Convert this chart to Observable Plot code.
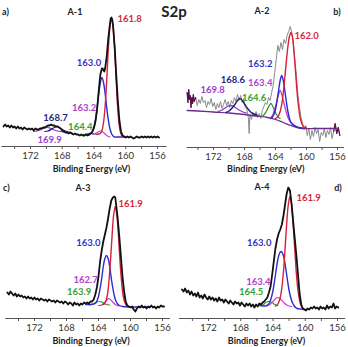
<!DOCTYPE html>
<html><head><meta charset="utf-8">
<script src="https://cdn.jsdelivr.net/npm/d3@7"></script>
<script src="https://cdn.jsdelivr.net/npm/@observablehq/plot@0.6"></script>
<style>
body{margin:0;background:#fff;}
#root{position:relative;width:348px;height:347px;overflow:hidden;font-family:Lato,"Open Sans",sans-serif;}
.pn{position:absolute;}
.t{position:absolute;transform:translate(-50%,-50%);font-weight:bold;line-height:1;white-space:nowrap;color:#222;}
</style></head><body><div id="root"></div>
<script>
// ---------- axis ----------
const TICKS = [156,158,160,162,164,166,168,170,172,174];
const TICK_LABELS = [156,160,164,168,172];
const AXIS_TITLE = "Binding Energy (eV)";
const MAIN_TITLE = "S2p";

// ---------- A-1 ----------
const A1_spectrum = [[175.4,20],[175.2,22],[175.0,20],[174.8,21],[174.6,19],[174.4,21],[174.2,19],[174.0,20],[173.8,18],[173.6,20],[173.4,18],[173.2,19],[173.0,17],[172.8,19],[172.6,18],[172.4,17],[172.2,18],[172.0,17],[171.8,18],[171.6,16],[171.4,18],[171.2,17],[171.0,17],[170.8,18],[170.6,18],[170.4,19],[170.2,19],[170.0,20],[169.8,21],[169.6,21],[169.4,22],[169.2,21],[169.0,21],[168.8,20],[168.6,20],[168.4,19],[168.2,18],[168.0,16],[167.8,15],[167.6,14],[167.4,14],[167.2,13],[167.0,14],[166.8,13],[166.6,12],[166.4,13],[166.2,12],[166.0,12],[165.8,11],[165.6,12],[165.4,11],[165.2,11],[165.0,12],[164.8,11],[164.6,12],[164.4,13],[164.2,15],[164.0,19],[163.8,26],[163.6,38],[163.4,56],[163.2,72],[163.0,78],[162.9,78],[162.8,76],[162.7,75],[162.6,78],[162.4,90],[162.2,108],[162.0,122],[161.9,128],[161.8,129],[161.7,127],[161.6,121],[161.4,100],[161.2,72],[161.0,46],[160.8,26],[160.6,15],[160.4,11],[160.2,10],[160.0,9],[159.8,10],[159.6,9],[159.4,10],[159.2,9],[159.0,8],[158.8,9],[158.6,10],[158.4,9],[158.2,9],[158.0,10],[157.8,9],[157.6,10],[157.4,9],[157.2,10],[157.0,9],[156.8,10],[156.6,9],[156.4,10],[156.2,9],[156.0,10],[155.8,9]];
const A1_fit_161_8 = [[163.6,12],[163.4,12.5],[163.2,13],[163.0,16],[162.8,24],[162.6,40],[162.4,66],[162.2,97],[162.0,119],[161.8,128],[161.6,120],[161.4,98],[161.2,66],[161.0,37],[160.8,20],[160.6,12.5],[160.4,10],[160.2,9.5],[160.0,9.5]];
const A1_fit_163_0 = [[164.8,12],[164.6,12],[164.4,13],[164.2,15],[164.0,19],[163.8,27],[163.6,39],[163.4,53],[163.2,64],[163.0,69],[162.8,64],[162.6,53],[162.4,39],[162.2,27],[162.0,18],[161.8,13],[161.6,10.5],[161.4,9.5],[161.0,9.5],[160.6,9.5],[160.2,9.5]];
const A1_fit_163_2 = [[164.2,12],[164.0,12.5],[163.8,13],[163.6,14],[163.4,15],[163.2,15.5],[163.0,15],[162.8,14],[162.6,12.5],[162.4,11],[162.2,10],[162.0,9.5]];
const A1_fit_164_4 = [[165.4,12],[165.0,12.3],[164.7,13],[164.4,13.5],[164.1,13],[163.8,12.3],[163.4,12]];
const A1_fit_168_7 = [[170.2,15],[169.8,15.5],[169.4,17],[169.0,19],[168.7,20],[168.4,19],[168.0,17],[167.6,15.5],[167.2,14.5],[166.8,14]];
const A1_fit_169_9 = [[171.6,15],[171.2,15.5],[170.8,16.5],[170.4,18],[169.9,19],[169.4,18],[169.0,16.5],[168.6,15.5],[168.2,15],[167.8,14.5]];
const A1_peaks = ["161.8","163.0","163.2","164.4","168.7","169.9"];

// ---------- A-2 ----------
const A2_spectrum = [[175.4,55],[175.3,45],[175.2,58],[175.1,48],[175.0,52],[174.9,40],[174.8,50],[174.7,44],[174.6,53],[174.5,46],[174.3,50],[174.1,42],[173.9,48],[173.7,44],[173.5,51],[173.3,45],[173.1,47],[172.9,40],[172.7,46],[172.5,43],[172.3,49],[172.1,41],[171.9,45],[171.7,38],[171.5,44],[171.3,40],[171.1,46],[170.9,39],[170.7,43],[170.5,48],[170.3,42],[170.1,46],[169.9,40],[169.7,47],[169.5,44],[169.3,50],[169.1,46],[168.9,53],[168.7,47],[168.5,52],[168.3,45],[168.1,49],[167.9,40],[167.7,38],[167.5,30],[167.4,14],[167.3,33],[167.1,28],[166.9,35],[166.7,31],[166.5,36],[166.3,30],[166.1,34],[165.9,29],[165.7,37],[165.5,41],[165.3,45],[165.1,43],[164.9,50],[164.7,47],[164.5,55],[164.3,62],[164.1,75],[163.9,88],[163.7,102],[163.5,96],[163.3,105],[163.1,98],[162.9,108],[162.7,104],[162.5,112],[162.3,116],[162.1,121],[161.9,115],[161.7,104],[161.5,88],[161.3,72],[161.1,52],[160.9,40],[160.7,30],[160.5,24],[160.3,18],[160.1,22],[159.9,12],[159.7,19],[159.5,8],[159.3,17],[159.1,11],[158.9,20],[158.7,14],[158.5,18],[158.3,6],[158.1,15],[157.9,12],[157.7,19],[157.5,10],[157.3,17],[157.1,13],[156.9,20],[156.7,9],[156.5,16],[156.3,24],[156.1,14],[155.9,20],[155.7,12]];
const A2_background = [[175.4,37],[174.0,36.5],[172.0,35.5],[170.0,34.5],[168.0,33],[166.5,31.5],[165.0,30],[164.0,28],[163.0,25],[162.0,22],[161.2,20],[160.5,19],[159.0,19],[157.5,19],[156.2,19]];
const A2_fit_162_0 = [[164.0,29],[163.8,30],[163.6,32],[163.4,36],[163.2,43],[163.0,54],[162.8,70],[162.6,86],[162.4,101],[162.2,111],[162.0,115],[161.8,110],[161.6,94],[161.4,74],[161.2,54],[161.0,39],[160.8,29],[160.6,24],[160.4,21],[160.2,20],[160.0,19.5]];
const A2_fit_163_2 = [[164.6,29],[164.4,30.5],[164.2,33],[164.0,38],[163.8,47],[163.6,57],[163.4,67],[163.2,72],[163.0,67],[162.8,57],[162.6,46],[162.4,36],[162.2,29],[162.0,25],[161.8,23],[161.5,21.5],[161.0,20],[160.5,19.5]];
const A2_fit_163_4 = [[164.8,29],[164.6,30],[164.4,32],[164.2,36],[164.0,41],[163.8,47],[163.6,53],[163.4,57],[163.2,53],[163.0,47],[162.8,41],[162.6,35],[162.4,30],[162.2,27],[162.0,25],[161.6,22.5],[161.2,20.5]];
const A2_fit_164_6 = [[165.8,31],[165.6,32],[165.4,33.5],[165.2,36],[165.0,39],[164.8,42],[164.6,44],[164.4,42],[164.2,38.5],[164.0,35],[163.8,32],[163.6,30],[163.4,29]];
const A2_fit_168_6 = [[170.4,35],[170.0,36.5],[169.6,39.5],[169.2,43.5],[168.9,47],[168.6,49],[168.3,47],[168.0,43.5],[167.6,39],[167.2,35.5],[166.8,33.5],[166.4,32.5]];
const A2_fit_169_8 = [[171.4,36],[171.0,37],[170.6,39],[170.2,41],[169.8,42],[169.4,41],[169.0,39],[168.6,37],[168.2,35.5],[167.8,34.5]];
const A2_peaks = ["162.0","163.2","163.4","164.6","168.6","169.8"];

// ---------- A-3 ----------
const A3_spectrum = [[175.4,26],[175.2,24],[175.0,27],[174.8,25],[174.6,23],[174.4,25],[174.2,22],[174.0,24],[173.8,22],[173.6,23],[173.4,21],[173.2,22],[173.0,20],[172.8,22],[172.6,20],[172.4,21],[172.2,19],[172.0,21],[171.8,19],[171.6,20],[171.4,18],[171.2,20],[171.0,19],[170.8,18],[170.6,19],[170.4,17],[170.2,19],[170.0,18],[169.8,17],[169.6,18],[169.4,16],[169.2,18],[169.0,17],[168.8,16],[168.6,17],[168.4,15],[168.2,17],[168.0,16],[167.8,14],[167.6,16],[167.4,15],[167.2,13],[167.0,16],[166.8,14],[166.6,15],[166.4,13],[166.2,15],[166.0,14],[165.8,16],[165.6,15],[165.4,16],[165.2,15],[165.0,17],[164.8,17],[164.6,19],[164.4,24],[164.2,31],[164.0,42],[163.8,57],[163.6,68],[163.4,77],[163.2,84],[163.0,91],[162.8,100],[162.6,110],[162.4,118],[162.2,121],[162.0,122],[161.9,121],[161.8,114],[161.6,100],[161.4,82],[161.2,62],[161.0,42],[160.8,27],[160.6,17],[160.4,13],[160.2,12],[160.0,11],[159.8,12],[159.6,9],[159.4,7],[159.2,10],[159.0,12],[158.8,11],[158.6,13],[158.4,11],[158.2,12],[158.0,10],[157.8,12],[157.6,11],[157.4,13],[157.2,11],[157.0,12],[156.8,10],[156.6,12],[156.4,11],[156.2,13],[156.0,12],[155.8,12]];
const A3_fit_161_9 = [[163.5,14],[163.3,14.5],[163.1,17],[162.9,23],[162.7,37],[162.5,58],[162.3,83],[162.1,104],[161.9,112],[161.7,103],[161.5,82],[161.3,56],[161.1,35],[160.9,22],[160.7,16],[160.5,13],[160.3,12]];
const A3_fit_163_0 = [[165.6,14],[165.0,14],[164.6,14.5],[164.4,15],[164.2,17.5],[164.0,22],[163.8,30],[163.6,40],[163.4,52],[163.2,60],[163.0,63],[162.8,60],[162.6,52],[162.4,40],[162.2,30],[162.0,22],[161.8,17],[161.6,14.5],[161.4,13],[161.0,12],[160.0,11.5],[159.0,11.5],[157.6,11.5]];
const A3_fit_162_7 = [[164.0,13],[163.6,13.5],[163.3,15.5],[163.0,18],[162.7,20],[162.4,18],[162.1,15.5],[161.8,13.5],[161.5,12.5]];
const A3_fit_163_9 = [[165.2,13.5],[164.8,14],[164.5,15.5],[164.2,16.5],[163.9,17],[163.6,16.5],[163.3,15],[163.0,14],[162.6,13.5]];
const A3_peaks = ["161.9","163.0","162.7","163.9"];

// ---------- A-4 ----------
const A4_spectrum = [[175.3,29],[175.1,27],[174.9,30],[174.7,26],[174.5,28],[174.3,24],[174.1,27],[173.9,23],[173.7,25],[173.5,22],[173.3,26],[173.1,21],[172.9,23],[172.7,20],[172.5,24],[172.3,21],[172.1,19],[171.9,22],[171.7,19],[171.5,21],[171.3,18],[171.1,20],[170.9,17],[170.7,21],[170.5,18],[170.3,19],[170.1,16],[169.9,19],[169.7,17],[169.5,15],[169.3,18],[169.1,16],[168.9,14],[168.7,17],[168.5,15],[168.3,16],[168.1,13],[167.9,16],[167.7,14],[167.5,12],[167.3,15],[167.1,13],[166.9,15],[166.7,12],[166.5,14],[166.3,11],[166.1,14],[165.9,12],[165.7,15],[165.5,14],[165.3,16],[165.1,17],[164.9,19],[164.7,21],[164.5,26],[164.3,32],[164.1,44],[163.9,57],[163.7,70],[163.5,79],[163.3,85],[163.1,89],[162.9,94],[162.7,103],[162.5,114],[162.3,125],[162.1,131],[161.9,128],[161.7,115],[161.5,97],[161.3,80],[161.1,63],[160.9,44],[160.7,25],[160.5,14],[160.3,10],[160.1,9],[159.9,8],[159.7,10],[159.5,9],[159.3,11],[159.1,10],[158.9,12],[158.7,10],[158.5,11],[158.3,9],[158.1,12],[157.9,10],[157.7,11],[157.5,9],[157.3,13],[157.1,10],[156.9,12],[156.7,11],[156.5,15],[156.3,10],[156.1,12],[155.9,11]];
const A4_fit_161_9 = [[163.7,12.5],[163.5,13.5],[163.3,16],[163.1,21],[162.9,31],[162.7,47],[162.5,70],[162.3,95],[162.1,114],[161.9,122],[161.7,114],[161.5,94],[161.3,69],[161.1,45],[160.9,28],[160.7,18],[160.5,12.5],[160.3,10],[160.1,9]];
const A4_fit_163_0 = [[165.6,13],[165.0,12.5],[164.8,13],[164.6,14],[164.4,16.5],[164.2,21],[164.0,28],[163.8,38],[163.6,49],[163.4,59],[163.2,65],[163.0,67],[162.8,65],[162.6,59],[162.4,49],[162.2,38],[162.0,28],[161.8,21],[161.6,16],[161.4,13],[161.2,11],[161.0,10],[160.6,9.5],[160.2,9],[159.8,9]];
const A4_fit_163_4 = [[164.8,12.5],[164.5,13.5],[164.2,15.5],[163.9,18],[163.6,20.5],[163.4,21],[163.2,20.5],[162.9,18],[162.6,15.5],[162.3,13.5],[162.0,12.5],[161.7,12]];
const A4_fit_164_5 = [[165.6,13],[165.2,14],[164.9,16],[164.5,17],[164.1,16],[163.8,14],[163.4,13]];
const A4_peaks = ["161.9","163.0","163.4","164.5"];

// ---------- styling / layout ----------
const C = {red:"#d8203a", blue:"#2b2bd0", mag:"#c43cd8", green:"#2f9a2a", navy:"#1e1e74", purple:"#8e3ad6", black:"#111", gray:"#8a8a8a", bg:"#6a2a92", edge:"#5c1048"};
const LC = {red:"#d42a3a", blue:"#3535c4", mag:"#b23ed2", green:"#3aa030", navy:"#26267c", purple:"#9a40d0"};

const root = document.getElementById("root");
const toObj = arr => arr.map(([x,y]) => ({x,y}));

function panel(o){
  const k = (o.p156 - o.p172)/16;
  const xl = o.p172 - (o.d0 - 172)*k;
  const xr = o.p156 + (156 - o.d1)*k;
  const marks = [
    Plot.ruleY([0], {stroke:"#555", strokeWidth:1}),
    Plot.axisX({ticks:TICKS, tickSize:3, tickPadding:3, stroke:"#555", fill:"#333", fontSize:9.5,
      tickFormat:d => TICK_LABELS.includes(d) ? String(d) : "", label:null}),
    Plot.text([AXIS_TITLE], {frameAnchor:"bottom", text:d=>d, dy:o.titleDy, dx:o.titleDx, fontSize:9, fontWeight:"bold", fill:"#222", lineAnchor:"middle"})
  ];
  for (const s of o.series){
    marks.push(Plot.line(toObj(s.data).filter(s.filter || (()=>true)), {x:"x", y:"y", stroke:s.color, strokeWidth:s.w, curve:s.curve || "linear", strokeLinejoin:"round"}));
  }
  for (const anchor of ["start","middle","end"]){
    const L = o.labels.filter(l => l.a === anchor);
    if (L.length) marks.push(Plot.text(L, {x:"x", y:"y", text:"t", fill:"c", textAnchor:anchor, fontSize:9.5, fontWeight:"bold", lineAnchor:"middle"}));
  }
  const svg = Plot.plot({
    width:o.w, height:o.h, marginTop:0, marginBottom:o.h - o.axisY, marginLeft:xl, marginRight:o.w - xr,
    x:{domain:[o.d0, o.d1]}, y:{domain:[0, o.axisY], axis:null},
    style:{background:"transparent", fontFamily:"Lato, 'Open Sans', sans-serif", overflow:"visible"},
    marks
  });
  const div = document.createElement("div");
  div.className = "pn"; div.style.left = o.left+"px"; div.style.top = o.top+"px";
  div.appendChild(svg);
  root.appendChild(div);
}
function txt(s, x, y, size, align){
  const d = document.createElement("div");
  d.className = "t"; d.textContent = s;
  d.style.left = x+"px"; d.style.top = y+"px"; d.style.fontSize = size+"px";
  if (align === "start") d.style.transform = "translate(0,-50%)";
  root.appendChild(d);
}

// A-1
panel({left:0, top:0, w:174, h:174, axisY:146, p172:30, p156:157, d0:175.6, d1:154.8, titleDy:23, titleDx:7,
  series:[
    {data:A1_fit_169_9, color:C.purple, w:1.2, curve:"catmull-rom"},
    {data:A1_fit_168_7, color:C.navy, w:1.2, curve:"catmull-rom"},
    {data:A1_fit_164_4, color:C.green, w:1.2, curve:"catmull-rom"},
    {data:A1_fit_163_2, color:C.mag, w:1.2, curve:"catmull-rom"},
    {data:A1_fit_163_0, color:C.blue, w:1.4, curve:"catmull-rom"},
    {data:A1_fit_161_8, color:C.red, w:1.4, curve:"catmull-rom"},
    {data:A1_spectrum, color:C.black, w:1.8}
  ],
  labels:[
    {t:A1_peaks[0], x:161.05, y:128, a:"start", c:LC.red},
    {t:A1_peaks[1], x:163.1, y:84, a:"end", c:LC.blue},
    {t:A1_peaks[2], x:163.7, y:39, a:"end", c:LC.mag},
    {t:A1_peaks[3], x:164.2, y:20, a:"end", c:LC.green},
    {t:A1_peaks[4], x:168.85, y:29, a:"middle", c:LC.navy},
    {t:A1_peaks[5], x:169.6, y:7, a:"middle", c:LC.purple}
  ]});

// A-2
panel({left:174, top:0, w:174, h:174, axisY:147, p172:39, p156:163, d0:175.4, d1:155.1, titleDy:22, titleDx:0,
  series:[
    {data:A2_spectrum, color:C.gray, w:1},
    {data:A2_spectrum, color:C.edge, w:1.2, filter:d => d.x > 174.2},
    {data:A2_spectrum, color:C.edge, w:1.2, filter:d => d.x < 156.6},
    {data:A2_background, color:C.bg, w:1.3, curve:"catmull-rom"},
    {data:A2_fit_169_8, color:C.purple, w:1.3, curve:"catmull-rom"},
    {data:A2_fit_168_6, color:C.navy, w:1.4, curve:"catmull-rom"},
    {data:A2_fit_164_6, color:C.green, w:1.3, curve:"catmull-rom"},
    {data:A2_fit_163_4, color:C.mag, w:1.3, curve:"catmull-rom"},
    {data:A2_fit_163_2, color:C.blue, w:1.4, curve:"catmull-rom"},
    {data:A2_fit_162_0, color:C.red, w:1.4, curve:"catmull-rom"}
  ],
  labels:[
    {t:A2_peaks[0], x:161.55, y:112, a:"start", c:LC.red},
    {t:A2_peaks[1], x:164.4, y:84, a:"end", c:LC.blue},
    {t:A2_peaks[2], x:164.4, y:65, a:"end", c:LC.mag},
    {t:A2_peaks[3], x:165.2, y:50, a:"end", c:LC.green},
    {t:A2_peaks[4], x:169.5, y:68, a:"middle", c:LC.navy},
    {t:A2_peaks[5], x:172.1, y:58, a:"middle", c:LC.purple}
  ]});

// A-3
panel({left:0, top:174, w:174, h:173, axisY:144, p172:34, p156:162, d0:175.6, d1:155.0, titleDy:23, titleDx:3,
  series:[
    {data:A3_fit_163_9, color:C.green, w:1.2, curve:"catmull-rom"},
    {data:A3_fit_162_7, color:C.mag, w:1.2, curve:"catmull-rom"},
    {data:A3_fit_163_0, color:C.blue, w:1.4, curve:"catmull-rom"},
    {data:A3_fit_161_9, color:C.red, w:1.4, curve:"catmull-rom"},
    {data:A3_spectrum, color:C.black, w:1.8}
  ],
  labels:[
    {t:A3_peaks[0], x:161.5, y:115, a:"start", c:LC.red},
    {t:A3_peaks[1], x:163.75, y:76, a:"end", c:LC.blue},
    {t:A3_peaks[2], x:164.1, y:39, a:"end", c:LC.mag},
    {t:A3_peaks[3], x:164.9, y:27, a:"end", c:LC.green}
  ]});

// A-4
panel({left:174, top:174, w:174, h:173, axisY:144, p172:34, p156:163, d0:175.6, d1:155.0, titleDy:23, titleDx:4,
  series:[
    {data:A4_fit_164_5, color:C.green, w:1.2, curve:"catmull-rom"},
    {data:A4_fit_163_4, color:C.mag, w:1.2, curve:"catmull-rom"},
    {data:A4_fit_163_0, color:C.blue, w:1.4, curve:"catmull-rom"},
    {data:A4_fit_161_9, color:C.red, w:1.4, curve:"catmull-rom"},
    {data:A4_spectrum, color:C.black, w:1.8}
  ],
  labels:[
    {t:A4_peaks[0], x:161.1, y:121, a:"start", c:LC.red},
    {t:A4_peaks[1], x:164.2, y:76, a:"end", c:LC.blue},
    {t:A4_peaks[2], x:164.3, y:37, a:"end", c:LC.mag},
    {t:A4_peaks[3], x:165.2, y:27, a:"end", c:LC.green}
  ]});

// titles
txt(MAIN_TITLE, 174, 11, 15);
txt("a)", 2, 11, 9, "start");
txt("A-1", 75, 11, 9);
txt("b)", 337, 11, 9);
txt("A-2", 262, 10, 9);
txt("c)", 3, 187, 9, "start");
txt("A-3", 83, 187, 9);
txt("d)", 338, 187, 9);
txt("A-4", 262, 186, 9);
</script>
</body></html>
